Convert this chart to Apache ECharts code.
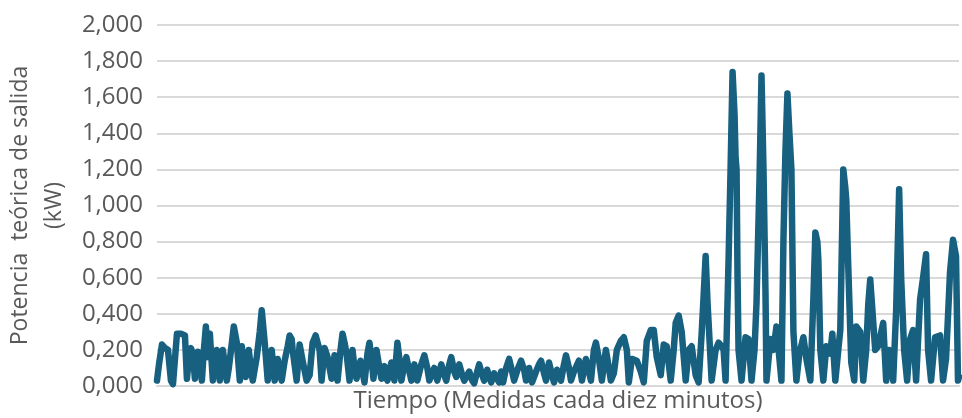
<!DOCTYPE html>
<html>
<head>
<meta charset="utf-8">
<script src="https://cdn.jsdelivr.net/npm/echarts@6/dist/echarts.min.js"></script>
<style>
  html, body { margin: 0; padding: 0; background: #ffffff; }
  #chart { width: 962px; height: 418px; }
</style>
</head>
<body>
<div id="chart"></div>
<script>
// Número de medida (una cada diez minutos) y potencia teórica de salida (kW)
const muestra1 = [
  0, 2, 5, 8, 11, 14, 16, 18, 20, 24,
  28, 30, 32, 34, 36, 38, 41, 43, 45, 47,
  49, 51, 53, 54, 56, 58, 60, 62, 63, 66,
  68, 70, 72, 74, 77, 80, 83, 85, 87, 89,
  92, 94, 96, 100, 103, 105, 107, 108, 111, 113,
  115, 116, 118, 121, 123, 125, 128, 131, 133, 135,
  136, 140, 143, 146, 150, 153, 156, 159, 161, 163,
  165, 168, 171, 175, 178, 181, 184, 186, 188, 190,
  193, 196, 198, 200, 204, 208, 211, 213, 215, 217,
  220, 223, 225, 228, 230
];
const potencia1 = [
  0.03, 0.12, 0.23, 0.21, 0.20, 0.03, 0.01, 0.15, 0.29, 0.29,
  0.28, 0.04, 0.15, 0.21, 0.18, 0.04, 0.19, 0.12, 0.03, 0.20,
  0.33, 0.16, 0.29, 0.20, 0.03, 0.12, 0.20, 0.10, 0.03, 0.20,
  0.12, 0.03, 0.10, 0.19, 0.33, 0.24, 0.03, 0.22, 0.12, 0.05,
  0.20, 0.10, 0.03, 0.16, 0.30, 0.42, 0.30, 0.24, 0.03, 0.12,
  0.20, 0.19, 0.03, 0.15, 0.08, 0.03, 0.14, 0.22, 0.28, 0.26,
  0.20, 0.03, 0.23, 0.14, 0.03, 0.06, 0.24, 0.28, 0.29, 0.20,
  0.03, 0.21, 0.16, 0.04, 0.17, 0.03, 0.20, 0.29, 0.24, 0.18,
  0.03, 0.20, 0.10, 0.04, 0.14, 0.02, 0.18, 0.24, 0.15, 0.04,
  0.20, 0.10, 0.04, 0.11, 0.05
];

const muestra2 = [
  231, 235, 238, 241, 243, 245, 248, 250, 253, 255,
  258, 261, 265, 268, 271, 273, 278, 281, 285, 288,
  290, 293, 295, 298, 300, 303, 306, 308, 313, 316,
  318, 321, 323, 326, 328, 331, 335, 338, 340, 343,
  345, 347
];
const potencia2 = [
  0.03, 0.13, 0.03, 0.24, 0.15, 0.03, 0.12, 0.16, 0.08, 0.03,
  0.12, 0.03, 0.12, 0.17, 0.10, 0.03, 0.10, 0.03, 0.12, 0.06,
  0.03, 0.12, 0.16, 0.08, 0.05, 0.12, 0.06, 0.03, 0.08, 0.03,
  0.015, 0.08, 0.12, 0.06, 0.03, 0.09, 0.02, 0.07, 0.08, 0.02,
  0.08, 0.02
];

const muestra3 = [
  350, 353, 356, 358, 362, 365, 368, 370, 373, 376,
  380, 383, 385, 388, 390, 393, 396, 398, 401, 405,
  408, 410, 413, 415, 418, 423, 426, 430, 433, 435,
  438, 440, 443, 446, 448, 450, 453, 455, 458, 461,
  465, 468, 471, 473, 476, 481, 485, 488, 491, 495,
  498, 501, 505, 508, 511, 515, 518, 520, 523, 526,
  530, 533, 536, 540, 543, 546, 548, 550, 552, 553,
  556, 560, 563, 566, 568, 570
];
const potencia3 = [
  0.10, 0.15, 0.08, 0.03, 0.10, 0.14, 0.09, 0.03, 0.10, 0.02,
  0.08, 0.12, 0.14, 0.07, 0.03, 0.13, 0.06, 0.02, 0.09, 0.03,
  0.12, 0.17, 0.10, 0.03, 0.08, 0.14, 0.03, 0.15, 0.08, 0.03,
  0.20, 0.24, 0.15, 0.03, 0.12, 0.20, 0.10, 0.03, 0.07, 0.20,
  0.25, 0.27, 0.20, 0.02, 0.15, 0.14, 0.08, 0.02, 0.25, 0.31,
  0.31, 0.16, 0.06, 0.23, 0.22, 0.03, 0.20, 0.35, 0.39, 0.30,
  0.03, 0.20, 0.22, 0.06, 0.02, 0.29, 0.50, 0.72, 0.45, 0.35,
  0.03, 0.20, 0.24, 0.22, 0.20, 0.03
];

const muestra4 = [
  573, 575, 577, 579, 580, 581, 582, 583, 586, 588,
  590, 593, 596, 599, 601, 604, 606, 608, 610, 611,
  615, 618, 621, 624, 626, 628, 630, 632, 634, 636,
  638, 641, 644, 648, 651, 655, 658, 660, 662, 663,
  665, 668, 671, 675, 677, 680, 683, 685, 686, 688,
  690, 691, 693, 696, 699, 701, 705, 708, 711, 713,
  715, 717, 720, 723, 728, 731, 734, 738, 741, 744,
  746, 749, 752, 755, 758, 761, 765, 768, 771, 773,
  776, 780, 785, 788, 791, 795, 798, 801, 803, 804
];
const potencia4 = [
  0.70, 1.20, 1.74, 1.50, 1.27, 1.20, 0.60, 0.20, 0.03, 0.15,
  0.27, 0.26, 0.03, 0.20, 0.46, 1.14, 1.72, 1.20, 0.52, 0.03,
  0.26, 0.20, 0.33, 0.15, 0.03, 0.81, 1.30, 1.62, 1.40, 1.20,
  0.30, 0.03, 0.18, 0.27, 0.15, 0.03, 0.48, 0.85, 0.80, 0.70,
  0.20, 0.03, 0.22, 0.18, 0.29, 0.03, 0.20, 0.31, 0.60, 1.20,
  1.10, 1.03, 0.66, 0.13, 0.03, 0.33, 0.30, 0.03, 0.20, 0.45,
  0.59, 0.58, 0.20, 0.22, 0.35, 0.03, 0.20, 0.03, 0.42, 1.09,
  0.60, 0.20, 0.03, 0.26, 0.31, 0.03, 0.48, 0.60, 0.73, 0.20,
  0.03, 0.27, 0.28, 0.03, 0.15, 0.63, 0.81, 0.72, 0.03, 0.05
];

const muestras = [].concat(muestra1, muestra2, muestra3, muestra4);
const potencias = [].concat(potencia1, potencia2, potencia3, potencia4);
const serie = muestras.map((m, i) => [m, potencias[i]]);

const textColor = '#595959';
const fontFamily = '"Open Sans", sans-serif';

const chart = echarts.init(document.getElementById('chart'), null, { renderer: 'canvas' });
chart.setOption({
  animation: false,
  backgroundColor: '#ffffff',
  grid: { left: 157, right: 3, top: 25, bottom: 32, containLabel: false, outerBoundsMode: 'none' },
  xAxis: {
    type: 'value',
    min: 0,
    max: 804,
    name: 'Tiempo (Medidas cada diez minutos)',
    nameLocation: 'middle',
    nameGap: 3,
    nameTextStyle: { color: textColor, fontSize: 24, fontFamily: fontFamily, verticalAlign: 'top' },
    axisLine: { show: true, lineStyle: { color: '#d9d9d9', width: 2 } },
    axisTick: { show: false },
    axisLabel: { show: false },
    splitLine: { show: false }
  },
  yAxis: {
    type: 'value',
    min: 0,
    max: 2,
    interval: 0.2,
    name: 'Potencia  teórica de salida\n(kW)',
    nameLocation: 'middle',
    nameRotate: 90,
    nameGap: 86,
    nameTextStyle: { color: textColor, fontSize: 23, fontFamily: fontFamily, lineHeight: 34 },
    axisLine: { show: false },
    axisTick: { show: false },
    axisLabel: {
      color: textColor,
      fontSize: 24,
      fontFamily: fontFamily,
      margin: 14,
      formatter: v => v.toFixed(3).replace('.', ',')
    },
    splitLine: { lineStyle: { color: '#d9d9d9', width: 2 } }
  },
  series: [{
    type: 'line',
    data: serie,
    showSymbol: false,
    smooth: false,
    lineStyle: { color: '#17607f', width: 6.5, cap: 'round', join: 'round' }
  }]
});
</script>
</body>
</html>
